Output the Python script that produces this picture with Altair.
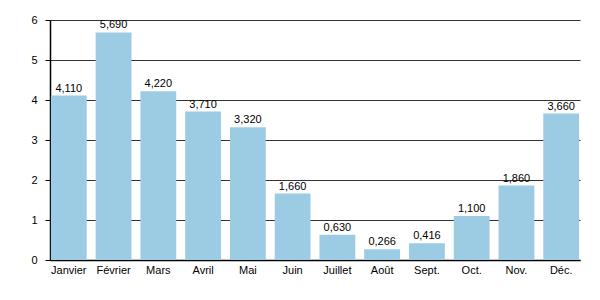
import altair as alt
import pandas as pd

months = ["Janvier", "Février", "Mars", "Avril", "Mai", "Juin", "Juillet",
          "Août", "Sept.", "Oct.", "Nov.", "Déc."]
values = [4.11, 5.69, 4.22, 3.71, 3.32, 1.66, 0.63, 0.266, 0.416, 1.10, 1.86, 3.66]
labels = ["4,110", "5,690", "4,220", "3,710", "3,320", "1,660", "0,630",
          "0,266", "0,416", "1,100", "1,860", "3,660"]
y_ticks = [0, 1, 2, 3, 4, 5, 6]

df = pd.DataFrame({"month": months, "value": values, "label": labels})

font = "Liberation Sans"

x = alt.X("month:N", sort=months, title=None,
          scale=alt.Scale(paddingInner=0.2, paddingOuter=0.02),
          axis=alt.Axis(labelAngle=0, ticks=False, domainColor="black",
                        labelFontSize=11, labelColor="black", labelFont=font,
                        labelPadding=4))
y = alt.Y("value:Q", title=None,
          scale=alt.Scale(domain=[0, 6], nice=False),
          axis=alt.Axis(values=y_ticks, tickCount=7, gridColor="#333333", labelOverlap=False,
                        gridOpacity=1, domainColor="black", tickColor="black",
                        tickSize=5, labelFontSize=11, labelColor="black",
                        labelFont=font, labelPadding=8))

bars = alt.Chart(df).mark_bar(color="#9ccbe4").encode(x=x, y=y)
text = alt.Chart(df).mark_text(dy=-7, fontSize=11, font=font, color="black").encode(
    x=x, y=y, text="label:N")

chart = (bars + text).properties(
    width=530, height=240,
    autosize=alt.AutoSizeParams(type="none"),
    padding={"left": 50, "top": 20, "right": 20, "bottom": 40},
).configure_view(stroke=None).configure_axis(domainWidth=1.5)

chart.save("out.html", embed_options={"renderer": "svg", "actions": False})
